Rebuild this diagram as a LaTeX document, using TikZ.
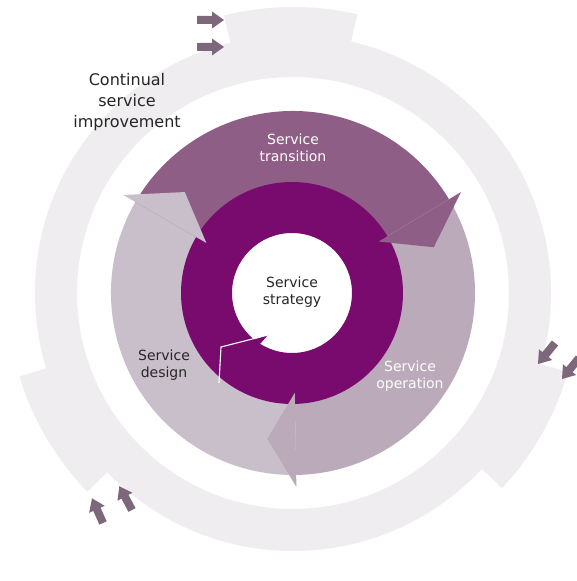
\documentclass[tikz,border=0pt]{standalone}
\usepackage{fontspec}
\setmainfont{DejaVu Sans}
\begin{document}
\begin{tikzpicture}[x=1pt,y=1pt]
\definecolor{csi}{HTML}{F0EDF0}
\definecolor{designc}{HTML}{C9BFCA}
\definecolor{operc}{HTML}{BBAABA}
\definecolor{transc}{HTML}{8E5E87}
\definecolor{stratc}{HTML}{7A0B6E}
\definecolor{arrowc}{HTML}{7D687B}
\definecolor{txtdark}{HTML}{262626}
\tikzset{
  blk/.pic={\fill[arrowc] (0,-4) -- (15,-4) -- (15,-8.5) -- (27,0) -- (15,8.5) -- (15,4) -- (0,4) -- cycle;},
  lbl/.style={align=center, font=\fontsize{14}{17}\selectfont, inner sep=0pt},
  biglbl/.style={align=center, font=\fontsize{16}{21}\selectfont, inner sep=0pt, text=txtdark}
}
\newcommand\ringsector[5]{\fill[#1] (#2:#5) arc[start angle=#2,end angle=#3,radius=#5] -- (#3:#4) arc[start angle=#3,end angle=#2,radius=#4] -- cycle;}
\useasboundingbox (0,0) rectangle (576,581);
\fill[white] (0,0) rectangle (576,581);
\begin{scope}[shift={(293,288)}]
  % outer continual service improvement band
  \fill[csi, even odd rule] (0,0) circle[radius=258] (0,0) circle[radius=216];
  \foreach \a in {104,-16,224} {
    \ringsector{csi}{\a}{\a-27}{250}{286}
  }
  % middle ring bodies
  \ringsector{designc}{150}{271}{105}{182}
  \ringsector{transc}{31}{150}{105}{182}
  \ringsector{operc}{-89}{31}{105}{182}
  % strategy ring
  \fill[stratc, even odd rule] (-1,0) circle[radius=111] (-1,0) circle[radius=60];
  \fill[stratc] (-41,-47) -- (-25,-42) -- (-33,-51) -- cycle;
  \draw[white, line width=1.1pt] (-74,-90) -- (-72,-54) -- (-25,-42);
  % arrow heads of the middle ring
  \fill[designc] (150:196) -- (137:148) -- (150:100) -- cycle;
  \fill[transc] (31:196) -- (18:148) -- (31:100) -- cycle;
  \fill[operc] (-89:194) -- (-100:148) -- (-89:100) -- cycle;
\end{scope}
% small arrows
\pic[rotate=0] at (197,561) {blk};
\pic[rotate=0] at (197,534) {blk};
\pic[rotate=231] at (555,238) {blk};
\pic[rotate=231] at (579,223) {blk};
\pic[rotate=114] at (103,58) {blk};
\pic[rotate=118] at (132,71) {blk};
% labels
\node[biglbl] (csi) at (127,479) {Continual\\service\\improvement};
\node[lbl, text=white] (transition) at (293,433) {Service\\transition};
\node[lbl, text=txtdark] (strategy) at (292,289) {Service\\strategy};
\node[lbl, text=txtdark] (design) at (164,216) {Service\\design};
\node[lbl, text=white] (operation) at (410,205) {Service\\operation};
\end{tikzpicture}
\end{document}
